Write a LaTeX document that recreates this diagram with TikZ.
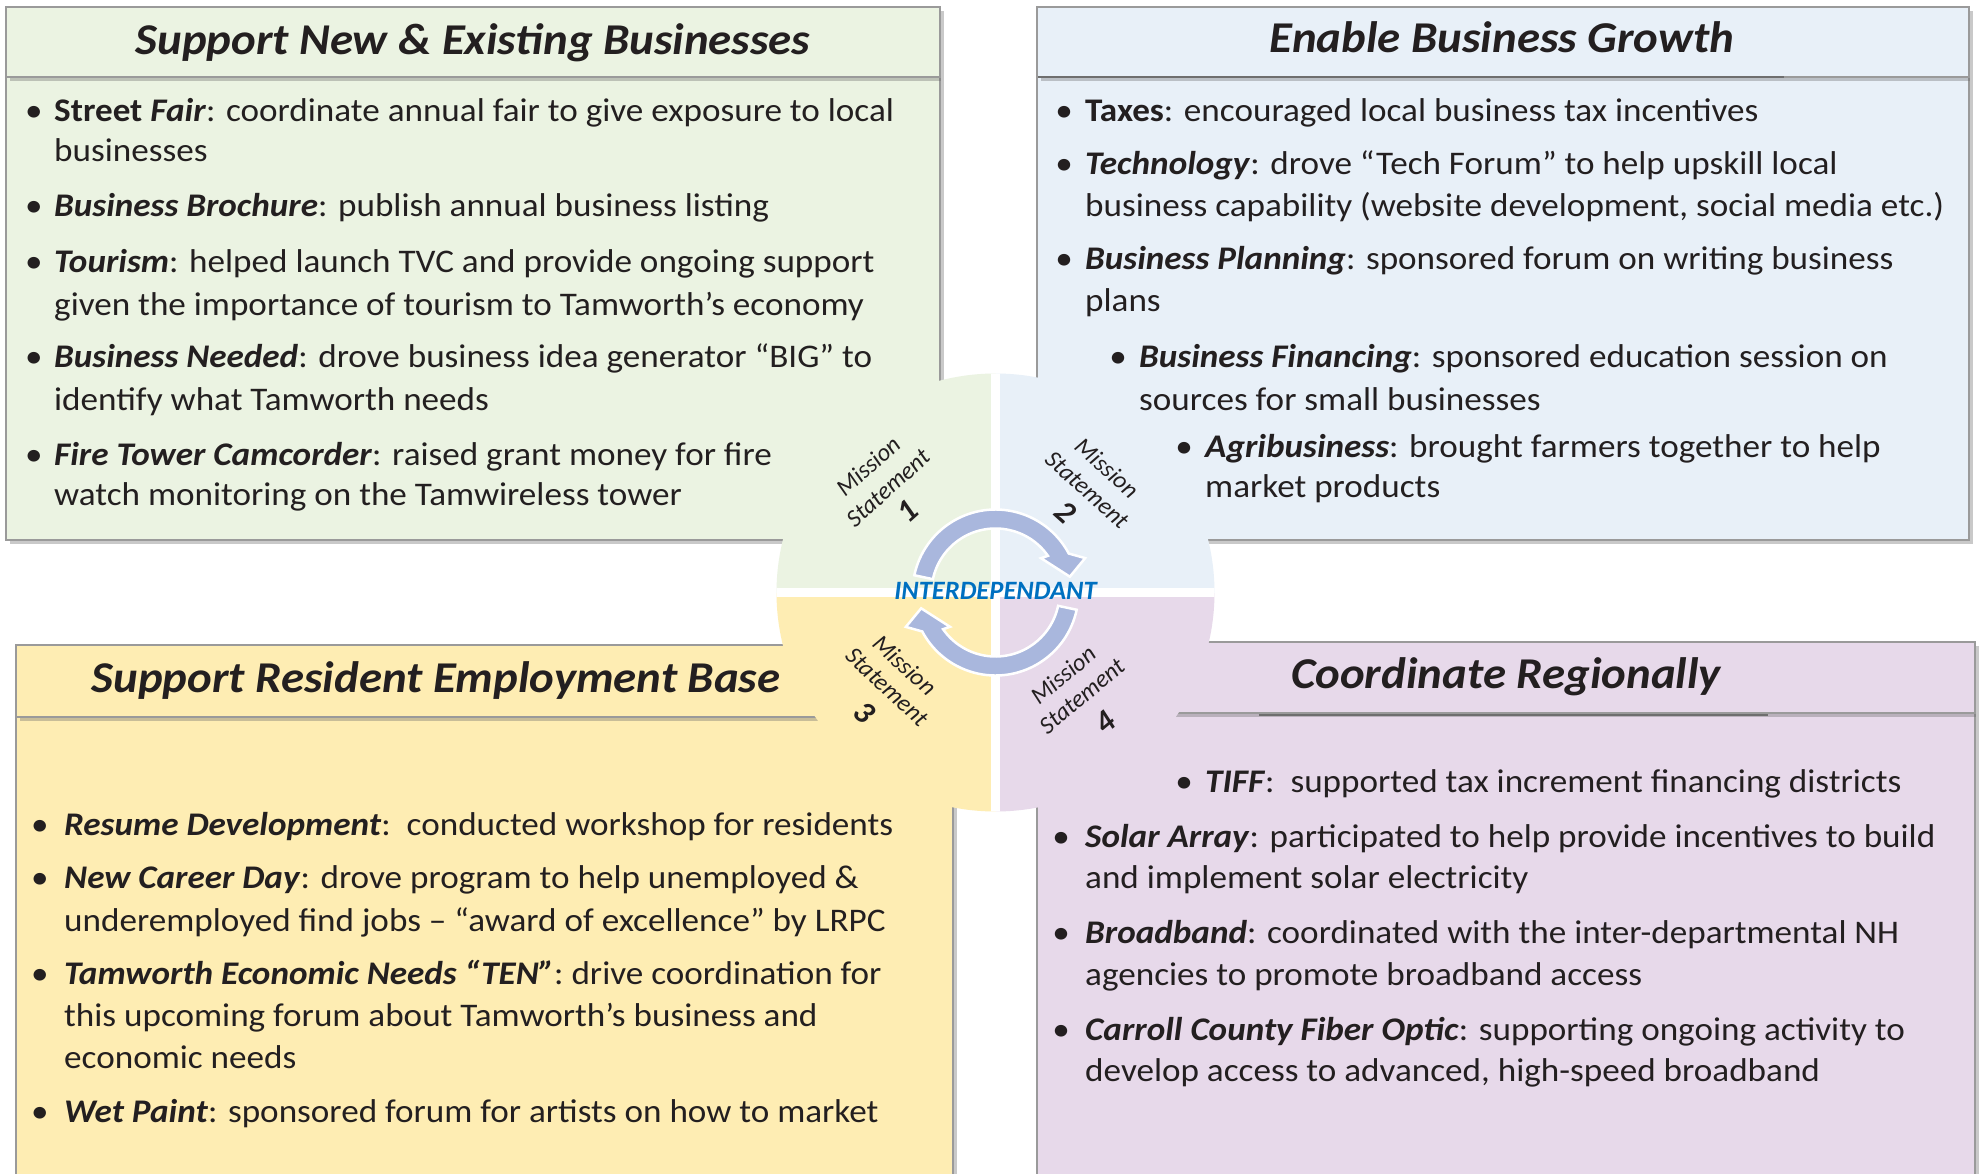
\documentclass[tikz,border=0pt]{standalone}
\usepackage{fontspec}
\setmainfont{Carlito}
\newfontfamily\bodyfont[FakeStretch=1.065]{Carlito}
\usetikzlibrary{shadows,calc}
\definecolor{gfill}{HTML}{EBF3E2}
\definecolor{bfill}{HTML}{E8F0F8}
\definecolor{yfill}{HTML}{FEEDB3}
\definecolor{pfill}{HTML}{E7D9EA}
\definecolor{ringc}{HTML}{A9B7DD}
\definecolor{txt}{HTML}{231F20}
\definecolor{idblue}{HTML}{0070C0}
\definecolor{edge}{HTML}{9A9A9A}
\definecolor{edgedark}{HTML}{6E6E6E}
\begin{document}
\begin{tikzpicture}[x=1pt,y=1pt,
 panel/.style={draw=edge, line width=1.2pt, drop shadow={shadow xshift=4pt, shadow yshift=-4pt, opacity=0.35, fill=black!60}},
 ttl/.style={font=\bodyfont\fontsize{44}{50}\selectfont\bfseries\itshape, text=txt, anchor=base, inner sep=0pt},
 ln/.style={font=\bodyfont\fontsize{33}{42}\selectfont, text=txt, anchor=base west, inner sep=0pt},
 bul/.style={font=\bodyfont\fontsize{33}{42}\selectfont, text=txt, anchor=base, inner sep=0pt},
 ms/.style={font=\fontsize{24.5}{30}\selectfont\itshape, text=txt, inner sep=0pt},
 msn/.style={font=\fontsize{32}{32}\selectfont\bfseries\itshape, text=txt, inner sep=0pt},
 ringarrow/.style={fill=ringc, draw=white, line width=2.5pt, line join=miter}
]
\useasboundingbox (0,0) rectangle (1979,-1174);
\clip (0,0) rectangle (1979,-1174);
\fill[white] (0,0) rectangle (1979,-1174);

% ---------- panels ----------
\path[panel, fill=gfill] (6,-77) rectangle (940,-540);
\path[panel, fill=gfill] (6,-7) rectangle (940,-77);
\path[panel, fill=bfill] (1037,-77) rectangle (1969,-540);
\path[panel, fill=bfill] (1037,-7) rectangle (1969,-77);
\draw[edgedark, line width=1.6pt] (1038,-77) -- (1784,-77);
\path[panel, fill=yfill] (16,-717) rectangle (953,-1190);
\path[panel, fill=yfill] (16,-645) rectangle (953,-717);
\path[panel, fill=pfill] (1037,-713) rectangle (1975,-1190);
\path[panel, fill=pfill] (1037,-642) rectangle (1975,-713);
\draw[edgedark, line width=1.6pt] (1259,-715) -- (1768,-715);

% ---------- central circle ----------
\coordinate (C) at (995.5,-592.5);
\begin{scope}
 \clip (C) circle (219pt);
 \fill[gfill] (C) rectangle ($(C)+(-230,230)$);
 \fill[bfill] (C) rectangle ($(C)+(230,230)$);
 \fill[yfill] (C) rectangle ($(C)+(-230,-230)$);
 \fill[pfill] (C) rectangle ($(C)+(230,-230)$);
 \draw[white, line width=9.5pt] ($(C)+(-230,0)$) -- ($(C)+(230,0)$);
 \draw[white, line width=9pt] ($(C)+(0,-230)$) -- ($(C)+(0,230)$);
\end{scope}

% ---------- ring arrows ----------
\begin{scope}[shift={(C)}]
 \path[ringarrow] (168:83pt) arc[start angle=168, end angle=28, radius=83pt]
   -- (21:96pt) -- (12:76pt) -- (37:57pt) -- (35:64pt)
   arc[start angle=35, end angle=168, radius=64pt] -- cycle;
 \begin{scope}[rotate=180]
 \path[ringarrow] (168:83pt) arc[start angle=168, end angle=28, radius=83pt]
   -- (21:96pt) -- (12:76pt) -- (37:57pt) -- (35:64pt)
   arc[start angle=35, end angle=168, radius=64pt] -- cycle;
 \end{scope}
\end{scope}
\node[font=\fontsize{26.5}{30}\selectfont\bfseries\itshape, text=idblue, inner sep=0pt] (inter) at (995.5,-591) {INTERDEPENDANT};

% ---------- mission statement labels ----------
\node[ms, rotate=42]  (ms1a) at (868,-466) {Mission};
\node[ms, rotate=42]  (ms1b) at (888,-488) {Statement};
\node[msn, rotate=42] (ms1c) at (908,-511) {1};
\node[ms, rotate=-42] (ms2a) at (1107,-468) {Mission};
\node[ms, rotate=-42] (ms2b) at (1087,-490) {Statement};
\node[msn, rotate=-42] (ms2c) at (1066,-512) {2};
\node[ms, rotate=-43] (ms3a) at (905,-665) {Mission};
\node[ms, rotate=-43] (ms3b) at (887,-687) {Statement};
\node[msn, rotate=-43] (ms3c) at (864,-712) {3};
\node[ms, rotate=40]  (ms4a) at (1063,-675) {Mission};
\node[ms, rotate=40]  (ms4b) at (1082,-696) {Statement};
\node[msn, rotate=40] (ms4c) at (1105,-722) {4};

% ---------- titles ----------
\node[ttl] (t1) at (473,-55) {Support New \& Existing Businesses};
\node[ttl] (t2) at (1502,-53) {Enable Business Growth};
\node[ttl] (t3) at (436,-692) {Support Resident Employment Base};
\node[ttl] (t4) at (1506,-688) {Coordinate Regionally};

% ---------- green text ----------
\node[bul] (gb1) at (34,-122) {\textbullet};
\node[ln] (g1) at (54,-122) {\textbf{Street \textit{Fair}}: coordinate annual fair to give exposure to local};
\node[ln] (g2) at (54,-162) {businesses};
\node[bul] (gb2) at (34,-217) {\textbullet};
\node[ln] (g3) at (54,-217) {\textbf{\textit{Business Brochure}}: publish annual business listing};
\node[bul] (gb3) at (34,-273) {\textbullet};
\node[ln] (g4) at (54,-273) {\textbf{\textit{Tourism}}: helped launch TVC and provide ongoing support};
\node[ln] (g5) at (54,-316) {given the importance of tourism to Tamworth’s economy};
\node[bul] (gb4) at (34,-367) {\textbullet};
\node[ln] (g6) at (54,-367) {\textbf{\textit{Business Needed}}: drove business idea generator “BIG” to};
\node[ln] (g7) at (54,-410) {identify what Tamworth needs};
\node[bul] (gb5) at (34,-465) {\textbullet};
\node[ln] (g8) at (54,-465) {\textbf{\textit{Fire Tower Camcorder}}: raised grant money for fire};
\node[ln] (g9) at (54,-505) {watch monitoring on the Tamwireless tower};

% ---------- blue text ----------
\node[bul] (bb1) at (1064,-122) {\textbullet};
\node[ln] (b1) at (1085,-122) {\textbf{Taxes}: encouraged local business tax incentives};
\node[bul] (bb2) at (1064,-175) {\textbullet};
\node[ln] (b2) at (1085,-175) {\textbf{\textit{Technology}}: drove “Tech Forum” to help upskill local};
\node[ln] (b3) at (1085,-217) {business capability (website development, social media etc.)};
\node[bul] (bb3) at (1064,-270) {\textbullet};
\node[ln] (b4) at (1085,-270) {\textbf{\textit{Business Planning}}: sponsored forum on writing business};
\node[ln] (b5) at (1085,-312) {plans};
\node[bul] (bb4) at (1118,-367) {\textbullet};
\node[ln] (b6) at (1139,-367) {\textbf{\textit{Business Financing}}: sponsored education session on};
\node[ln] (b7) at (1139,-410) {sources for small businesses};
\node[bul] (bb5) at (1184,-457) {\textbullet};
\node[ln] (b8) at (1205,-457) {\textbf{\textit{Agribusiness}}: brought farmers together to help};
\node[ln] (b9) at (1205,-497) {market products};

% ---------- yellow text ----------
\node[bul] (yb1) at (40,-835) {\textbullet};
\node[ln] (y1) at (64,-835) {\textbf{\textit{Resume Development}}:\ \ conducted workshop for residents};
\node[bul] (yb2) at (40,-888) {\textbullet};
\node[ln] (y2) at (64,-888) {\textbf{\textit{New Career Day}}: drove program to help unemployed \&};
\node[ln] (y3) at (64,-931) {underemployed find jobs – “award of excellence” by LRPC};
\node[bul] (yb3) at (40,-984) {\textbullet};
\node[ln] (y4) at (64,-984) {\textbf{\textit{Tamworth Economic Needs “TEN”}}: drive coordination for};
\node[ln] (y5) at (64,-1026) {this upcoming forum about Tamworth’s business and};
\node[ln] (y6) at (64,-1068) {economic needs};
\node[bul] (yb4) at (40,-1122) {\textbullet};
\node[ln] (y7) at (64,-1122) {\textbf{\textit{Wet Paint}}: sponsored forum for artists on how to market};

% ---------- purple text ----------
\node[bul] (pb1) at (1184,-792) {\textbullet};
\node[ln] (p1) at (1205,-792) {\textbf{\textit{TIFF}}:\ \ supported tax increment financing districts};
\node[bul] (pb2) at (1061,-847) {\textbullet};
\node[ln] (p2) at (1085,-847) {\textbf{\textit{Solar Array}}: participated to help provide incentives to build};
\node[ln] (p3) at (1085,-888) {and implement solar electricity};
\node[bul] (pb3) at (1061,-943) {\textbullet};
\node[ln] (p4) at (1085,-943) {\textbf{\textit{Broadband}}: coordinated with the inter-departmental NH};
\node[ln] (p5) at (1085,-985) {agencies to promote broadband access};
\node[bul] (pb4) at (1061,-1040) {\textbullet};
\node[ln] (p6) at (1085,-1040) {\textbf{\textit{Carroll County Fiber Optic}}: supporting ongoing activity to};
\node[ln] (p7) at (1085,-1081) {develop access to advanced, high-speed broadband};
\end{tikzpicture}
\end{document}
